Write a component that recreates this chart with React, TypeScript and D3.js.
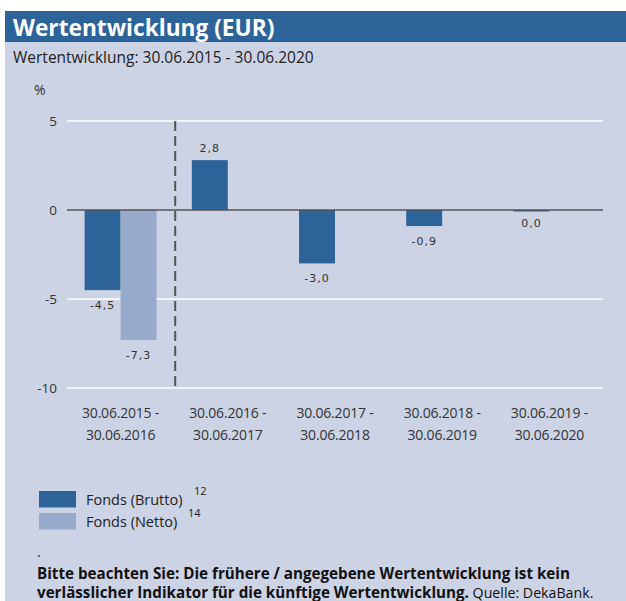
import React from "react";
import * as d3 from "d3";

const periodStart = ["30.06.2015 -", "30.06.2016 -", "30.06.2017 -", "30.06.2018 -", "30.06.2019 -"];
const periodEnd = ["30.06.2016", "30.06.2017", "30.06.2018", "30.06.2019", "30.06.2020"];
const brutto: (number | null)[] = [-4.5, 2.8, -3.0, -0.9, 0.0];
const netto: (number | null)[] = [-7.3, null, null, null, null];
const yTicks = [5, 0, -5, -10];
const seriesNames = ["Fonds (Brutto)", "Fonds (Netto)"];
const seriesNotes = ["12", "14"];

const W = 626;
const H = 601;
const BLUE = "#2C6399";
const LIGHT = "#98AACB";
const BG = "#CCD3E5";
const TXT = "#333";

export default function App() {
  const x = d3.scaleBand<number>().domain(d3.range(periodStart.length)).range([67, 603]).paddingInner(0).paddingOuter(0);
  const inner = d3.scaleBand<string>().domain(["b", "n"]).range([0, x.bandwidth()]).paddingInner(0).paddingOuter(0.49);
  const y = d3.scaleLinear().domain([-10, 5]).range([388, 121]);
  const fmt = (v: number) => d3.format(".1f")(v).replace(".", ",").replace("−", "-");
  const series = [
    { key: "b", data: brutto, color: BLUE },
    { key: "n", data: netto, color: LIGHT },
  ];
  const font = "'Open Sans', 'Noto Sans', sans-serif";
  return (
    <svg width={W} height={H} style={{ position: "absolute", left: 0, top: 0, fontFamily: font }}>
      <rect x={0} y={0} width={W} height={H} fill="#fff" />
      <rect x={5} y={42} width={W - 5} height={H - 42} fill={BG} />
      <rect x={5} y={11} width={W - 5} height={31} fill={BLUE} />
      <text x={13} y={35.5} fill="#fff" fontSize={22.7} fontWeight={700}>Wertentwicklung (EUR)</text>
      <text x={13} y={62.5} fill="#222" fontSize={15.5}>Wertentwicklung: 30.06.2015 - 30.06.2020</text>
      <text x={34} y={95} fill={TXT} fontSize={14}>%</text>
      {yTicks.map((t) => (
        <g key={t}>
          {t !== 0 && <line x1={67} x2={603} y1={y(t)} y2={y(t)} stroke="#fff" strokeWidth={1.5} />}
          <text x={57} y={y(t)} dy="0.35em" textAnchor="end" fill={TXT} fontSize={13.5}>{t}</text>
        </g>
      ))}
      {series.map((s) =>
        s.data.map((v, i) => {
          if (v === null) return null;
          const bx = (x(i) as number) + (inner(s.key) as number);
          const y0 = y(0);
          const yv = y(v);
          const top = Math.min(y0, yv);
          const h = Math.max(Math.abs(yv - y0), 1.5);
          const cx = bx + inner.bandwidth() / 2;
          const ly = v > 0 ? yv - 8 : top + h + 19 - (v === 0 ? 4 : 0);
          return (
            <g key={s.key + i}>
              <rect x={bx} y={top} width={inner.bandwidth()} height={h} fill={s.color} />
              <text x={cx} y={ly} textAnchor="middle" fill={TXT} fontSize={11} letterSpacing={1} fontFamily="'DejaVu Sans', sans-serif">{fmt(v)}</text>
            </g>
          );
        })
      )}
      <line x1={67} x2={603} y1={y(0)} y2={y(0)} stroke="#555" strokeWidth={1.5} />
      <line x1={(x(1) as number) + 1} x2={(x(1) as number) + 1} y1={y(5)} y2={y(-10)} stroke="#555" strokeWidth={2} strokeDasharray="10,5" />
      {periodStart.map((p, i) => {
        const cx = (x(i) as number) + x.bandwidth() / 2;
        return (
          <g key={p}>
            <text x={cx} y={418} textAnchor="middle" fill={TXT} fontSize={14} letterSpacing={-0.2}>{p}</text>
            <text x={cx} y={440} textAnchor="middle" fill={TXT} fontSize={14} letterSpacing={-0.2}>{periodEnd[i]}</text>
          </g>
        );
      })}
      {seriesNames.map((n, i) => (
        <g key={n}>
          <rect x={39} y={491 + i * 22} width={37} height={16.5} fill={i === 0 ? BLUE : LIGHT} />
          <text x={86} y={505 + i * 22} fill="#222" fontSize={14.5}>{n}</text>
          <text x={i === 0 ? 194 : 188} y={495 + i * 22} fill="#222" fontSize={11}>{seriesNotes[i]}</text>
        </g>
      ))}
      <text x={37} y={557} fill="#222" fontSize={14}>.</text>
      <text x={37} y={579} fill="#111" fontSize={15.2} fontWeight={700}>Bitte beachten Sie: Die frühere / angegebene Wertentwicklung ist kein</text>
      <text x={37} y={598} fill="#111" fontSize={15.2}>
        <tspan fontWeight={700}>verlässlicher Indikator für die künftige Wertentwicklung.</tspan>
        <tspan fontSize={14.2}> Quelle: DekaBank.</tspan>
      </text>
    </svg>
  );
}
